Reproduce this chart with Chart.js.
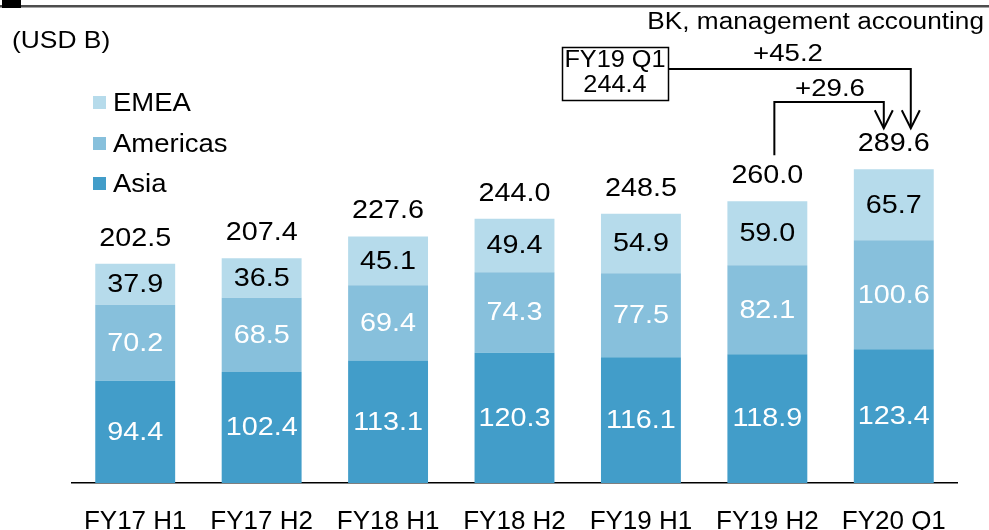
<!DOCTYPE html>
<html>
<head>
<meta charset="utf-8">
<script src="https://cdn.jsdelivr.net/npm/chart.js@4"></script>
<style>html,body{margin:0;background:#fff}</style>
</head>
<body>
<canvas id="chart" width="989" height="530"></canvas>
<script>
// Regional breakdown, USD B
const periods = ['FY17 H1', 'FY17 H2', 'FY18 H1', 'FY18 H2', 'FY19 H1', 'FY19 H2', 'FY20 Q1'];
const asia = [94.4, 102.4, 113.1, 120.3, 116.1, 118.9, 123.4];
const americas = [70.2, 68.5, 69.4, 74.3, 77.5, 82.1, 100.6];
const emea = [37.9, 36.5, 45.1, 49.4, 54.9, 59.0, 65.7];
const totals = [202.5, 207.4, 227.6, 244.0, 248.5, 260.0, 289.6];
const fy19q1 = 244.4;
const growth = ['+45.2', '+29.6'];

const FONT = '"Liberation Sans", Arial, sans-serif';
const colors = { asia: '#429dc9', americas: '#87c0dc', emea: '#b6dbeb' };

// text in the source is a bit stretched horizontally
function text(ctx, str, x, y, size, align, sx) {
  ctx.save();
  ctx.font = size + 'px ' + FONT;
  ctx.textAlign = align;
  ctx.textBaseline = 'middle';
  ctx.translate(x, y);
  ctx.scale(sx || 1.15, 1);
  ctx.fillText(str, 0, 0);
  ctx.restore();
}

function arrowDown(ctx, x, tipY) {
  ctx.beginPath();
  ctx.moveTo(x - 9, tipY - 18);
  ctx.lineTo(x, tipY);
  ctx.lineTo(x + 9, tipY - 18);
  ctx.stroke();
}

const overlay = {
  id: 'overlay',
  afterDatasetsDraw(chart) {
    const ctx = chart.ctx;
    const x = chart.scales.x;
    const y = chart.scales.y;
    ctx.save();

    // labels inside the stacked segments
    const labelColors = ['#ffffff', '#ffffff', '#000000'];
    chart.data.datasets.forEach((ds, i) => {
      const meta = chart.getDatasetMeta(i);
      ctx.fillStyle = labelColors[i];
      meta.data.forEach((bar, j) => {
        text(ctx, ds.data[j].toFixed(1), bar.x, (bar.y + bar.base) / 2 + 1, 25, 'center');
      });
    });

    // totals above bars
    ctx.fillStyle = '#000';
    totals.forEach((t, j) => {
      text(ctx, t.toFixed(1), x.getPixelForValue(j), y.getPixelForValue(t) - 25, 25, 'center');
    });

    // header rule
    ctx.fillStyle = '#4d4d4d';
    ctx.fillRect(0, 5, chart.width, 2.5);
    ctx.fillStyle = '#000';
    ctx.fillRect(2, 0, 19, 8);

    ctx.fillStyle = '#000';
    text(ctx, '(USD B)', 12, 41, 24, 'left', 1.1);

    // legend
    const legend = [['EMEA', colors.emea, 103], ['Americas', colors.americas, 144], ['Asia', colors.asia, 184]];
    legend.forEach(([name, c, ly]) => {
      ctx.fillStyle = c;
      ctx.fillRect(93, ly - 7, 13, 13);
      ctx.fillStyle = '#000';
      text(ctx, name, 113, ly + 1, 25, 'left', 1.1);
    });

    // annotation
    text(ctx, 'BK, management accounting', 984, 23, 23, 'right', 1.14);

    ctx.strokeStyle = '#000';
    ctx.lineWidth = 1.5;
    ctx.strokeRect(562.5, 47.5, 106, 53);
    text(ctx, 'FY19 Q1', 615, 61, 23, 'center', 1.1);
    text(ctx, fy19q1.toFixed(1), 615, 86, 23, 'center', 1.1);

    const lastX = x.getPixelForValue(6);
    const prevX = x.getPixelForValue(5);
    const tipY = y.getPixelForValue(totals[6]) - 41;
    const xR = lastX + 17;
    const xL = lastX - 10;

    ctx.lineWidth = 2;
    ctx.beginPath();
    ctx.moveTo(669, 69);
    ctx.lineTo(xR, 69);
    ctx.lineTo(xR, tipY);
    ctx.stroke();
    arrowDown(ctx, xR, tipY);

    const x6 = prevX + 7;
    ctx.beginPath();
    ctx.moveTo(x6, y.getPixelForValue(totals[5]) - 46);
    ctx.lineTo(x6, 102);
    ctx.lineTo(xL, 102);
    ctx.lineTo(xL, tipY);
    ctx.stroke();
    arrowDown(ctx, xL, tipY);

    text(ctx, growth[0], 788, 54, 24, 'center');
    text(ctx, growth[1], 830, 89, 24, 'center');

    ctx.restore();
  }
};

new Chart(document.getElementById('chart'), {
  type: 'bar',
  data: {
    labels: periods,
    datasets: [
      { label: 'Asia', data: asia, backgroundColor: colors.asia },
      { label: 'Americas', data: americas, backgroundColor: colors.americas },
      { label: 'EMEA', data: emea, backgroundColor: colors.emea },
    ],
  },
  options: {
    responsive: false,
    animation: false,
    events: [],
    layout: { padding: { left: 72, right: 32, top: 158, bottom: 0 } },
    datasets: { bar: { categoryPercentage: 1, barPercentage: 0.632 } },
    plugins: {
      legend: { display: false },
      tooltip: { enabled: false },
    },
    scales: {
      x: {
        stacked: true,
        grid: { display: false, drawTicks: false },
        border: { color: '#000', width: 1.5 },
        ticks: { color: '#000', font: { family: FONT, size: 26 }, padding: 23, maxRotation: 0 },
        afterFit(scale) { scale.height = 47; },
      },
      y: {
        stacked: true,
        display: false,
        min: 0,
        max: 300,
      },
    },
  },
  plugins: [overlay],
});
</script>
</body>
</html>
